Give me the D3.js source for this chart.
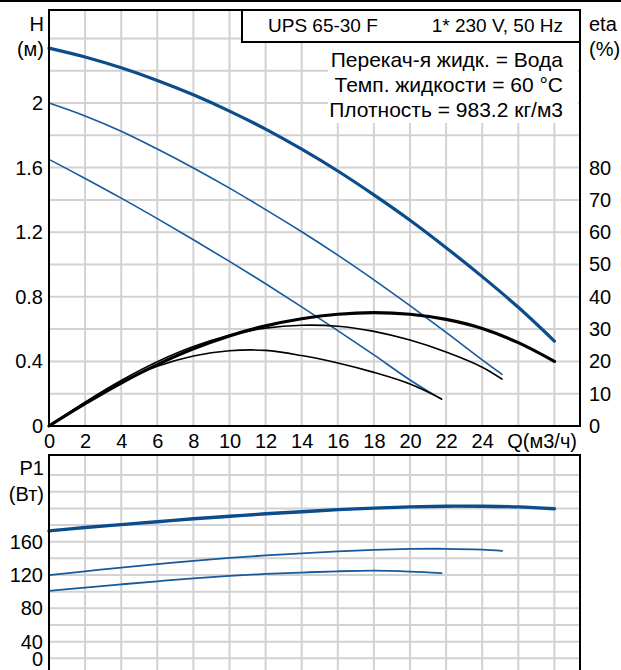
<!DOCTYPE html>
<html>
<head>
<meta charset="utf-8">
<script src="https://cdn.jsdelivr.net/npm/d3@7"></script>
<style>
  body { margin: 0; background: #fff; }
  svg { display: block; font-family: "Liberation Sans", Arial, sans-serif; }
</style>
</head>
<body>
<div id="chart"></div>
<script>
// Q (m3/h) values of each curve
const qHigh = [0, 2, 4, 6, 8, 10, 12, 14, 16, 18, 20, 22, 24, 26, 28];
const qMid  = [0, 2, 4, 6, 8, 10, 12, 14, 16, 18, 20, 22, 24, 25.1];
const qLow  = [0, 2, 4, 6, 8, 10, 12, 14, 16, 18, 20, 21.75];

// head H (m)
const hHigh = [2.34, 2.285, 2.218, 2.14, 2.051, 1.95, 1.838, 1.714, 1.579, 1.431, 1.274, 1.104, 0.925, 0.735, 0.526];
const hMid  = [2.0, 1.92, 1.825, 1.715, 1.598, 1.473, 1.34, 1.203, 1.058, 0.905, 0.745, 0.58, 0.41, 0.32];
const hLow  = [1.651, 1.533, 1.411, 1.284, 1.153, 1.019, 0.881, 0.738, 0.591, 0.44, 0.285, 0.165];

// efficiency eta (%)
const etaHigh = [0, 6.9, 13.3, 19.0, 23.9, 27.9, 31.0, 33.2, 34.6, 35.1, 34.6, 33.0, 30.2, 25.8, 20];
const etaMid  = [0, 7.4, 14.1, 19.9, 24.6, 28.1, 30.3, 31.2, 30.9, 29.3, 26.6, 22.9, 18.2, 14.5];
const etaLow  = [0, 7.2, 13.6, 18.5, 21.7, 23.3, 23.4, 21.8, 19.5, 16.6, 13.0, 8.4];

// power P1 (W)
const pHigh = [173, 177, 180.5, 184, 187.5, 190.5, 193.5, 196, 198.5, 200.3, 201.8, 202.6, 202.6, 201.8, 199.6];
const pMid  = [120, 124.5, 129, 133, 137, 140.5, 143.5, 146, 148.5, 150.3, 151.3, 151.5, 150.5, 149];
const pLow  = [101, 105, 108.8, 112.5, 116, 119, 121.3, 123, 124.5, 125.2, 124.2, 122.4];

// tick labels
const qTicks = [0, 2, 4, 6, 8, 10, 12, 14, 16, 18, 20, 22, 24];
const hTicks = [0, 0.4, 0.8, 1.2, 1.6, 2];
const etaTicks = [0, 10, 20, 30, 40, 50, 60, 70, 80];
const pTicks = [0, 40, 80, 120, 160];

const titleLeft = "UPS 65-30 F";
const titleRight = "1* 230 V, 50 Hz";
const infoLines = ["Перекач-я жидк. = Вода", "Темп. жидкости = 60 °C", "Плотность = 983.2 кг/м3"];

const W = 621, H = 670;
const left = 49, right = 580, top1 = 10, bottom1 = 426, top2 = 455, bottom2 = 680;
const blue = "#0b4c8c", blueThin = "#145a9c";

const svg = d3.select("#chart").append("svg")
  .attr("width", W).attr("height", H);

svg.append("rect").attr("width", W).attr("height", H).attr("fill", "#fff");
svg.append("line").attr("x1", 0).attr("x2", W).attr("y1", 1).attr("y2", 1)
  .attr("stroke", "#000").attr("stroke-width", 2);

// scales
const x = d3.scaleLinear().domain([0, 28]).range([left, 554.4]);
const yH = d3.scaleLinear().domain([0, 2.4]).range([bottom1, 38.4]);
const yEta = d3.scaleLinear().domain([0, 80]).range([bottom1, yH(1.6)]);
const yP = d3.scaleLinear().domain([0, 160]).range([675, 541.7]);

// grids
function grid(y0, y1, yScale, vals) {
  const g = svg.append("g").attr("stroke", "#d2d2d2").attr("stroke-width", 2);
  g.selectAll("line.v").data(d3.range(2, 29, 2)).enter().append("line")
    .attr("x1", d => x(d)).attr("x2", d => x(d))
    .attr("y1", y0).attr("y2", y1);
  g.selectAll("line.h").data(vals).enter().append("line")
    .attr("x1", left).attr("x2", right)
    .attr("y1", d => yScale(d)).attr("y2", d => yScale(d));
}
grid(top1, bottom1, yH, d3.range(1, 13).map(i => i * 0.2));
grid(top2, H, yP, d3.range(1, 13).map(i => i * 20));

// curves
const toPts = (qs, vs) => qs.map((q, i) => [q, vs[i]]);
function curve(qs, vs, yScale, color, width) {
  svg.append("path")
    .datum(toPts(qs, vs))
    .attr("fill", "none")
    .attr("stroke", color)
    .attr("stroke-width", width)
    .attr("stroke-linecap", "round")
    .attr("d", d3.line().x(d => x(d[0])).y(d => yScale(d[1])).curve(d3.curveCatmullRom.alpha(0.5)));
}

// info box background
svg.append("rect").attr("x", 328).attr("y", 42).attr("width", 250).attr("height", 81).attr("fill", "#fff");

curve(qLow, hLow, yH, blueThin, 1.6);
curve(qMid, hMid, yH, blueThin, 1.6);
curve(qHigh, hHigh, yH, blue, 3.2);
curve(qLow, etaLow, yEta, "#000", 1.6);
curve(qMid, etaMid, yEta, "#000", 1.6);
curve(qHigh, etaHigh, yEta, "#000", 3.2);
curve(qLow, pLow, yP, blueThin, 1.8);
curve(qMid, pMid, yP, blueThin, 1.8);
curve(qHigh, pHigh, yP, blue, 3.4);

// frames
svg.append("rect").attr("x", left).attr("y", top1).attr("width", right - left).attr("height", bottom1 - top1)
  .attr("fill", "none").attr("stroke", "#000").attr("stroke-width", 2);
svg.append("rect").attr("x", left).attr("y", top2).attr("width", right - left).attr("height", bottom2 - top2)
  .attr("fill", "none").attr("stroke", "#000").attr("stroke-width", 2);

// title box
svg.append("rect").attr("x", 242).attr("y", top1).attr("width", right - 242).attr("height", 32)
  .attr("fill", "#fff").attr("stroke", "#000").attr("stroke-width", 2);

const fs = 20;
function styleAxis(g) {
  g.select(".domain").remove();
  g.selectAll("text").attr("font-size", fs).attr("font-family", "Liberation Sans, Arial, sans-serif").attr("fill", "#000");
}

// axes (labels only)
svg.append("g").attr("transform", `translate(${left},0)`)
  .call(d3.axisLeft(yH).tickValues(hTicks).tickSize(0).tickPadding(6).tickFormat(d3.format("")))
  .call(styleAxis);
svg.append("g").attr("transform", `translate(${right},0)`)
  .call(d3.axisRight(yEta).tickValues(etaTicks).tickSize(0).tickPadding(9))
  .call(styleAxis);
svg.append("g").attr("transform", `translate(0,${bottom1})`)
  .call(d3.axisBottom(x).tickValues(qTicks).tickSize(0).tickPadding(8))
  .call(styleAxis);
const pAxis = svg.append("g").attr("transform", `translate(${left},0)`)
  .call(d3.axisLeft(yP).tickValues(pTicks).tickSize(0).tickPadding(6))
  .call(styleAxis);
pAxis.selectAll(".tick").filter(d => d === 0).select("text").attr("y", -16);

// axis titles
function label(txt, px, py, anchor, size) {
  svg.append("text").attr("x", px).attr("y", py).attr("text-anchor", anchor)
    .attr("font-size", size || fs).attr("fill", "#000").text(txt);
}
label("H", 44, 31, "end");
label("(м)", 44, 56, "end");
label("eta", 589, 31, "start");
label("(%)", 589, 56, "start");
label("P1", 44, 475, "end");
label("(Вт)", 44, 501, "end");
label("Q(м3/ч)", 577, 448, "end");

// legend text
label(titleLeft, 268, 32, "start", 19);
label(titleRight, 563, 32, "end", 19);
infoLines.forEach((t, i) => label(t, 563, 67 + i * 25, "end", 21));
</script>
</body>
</html>
